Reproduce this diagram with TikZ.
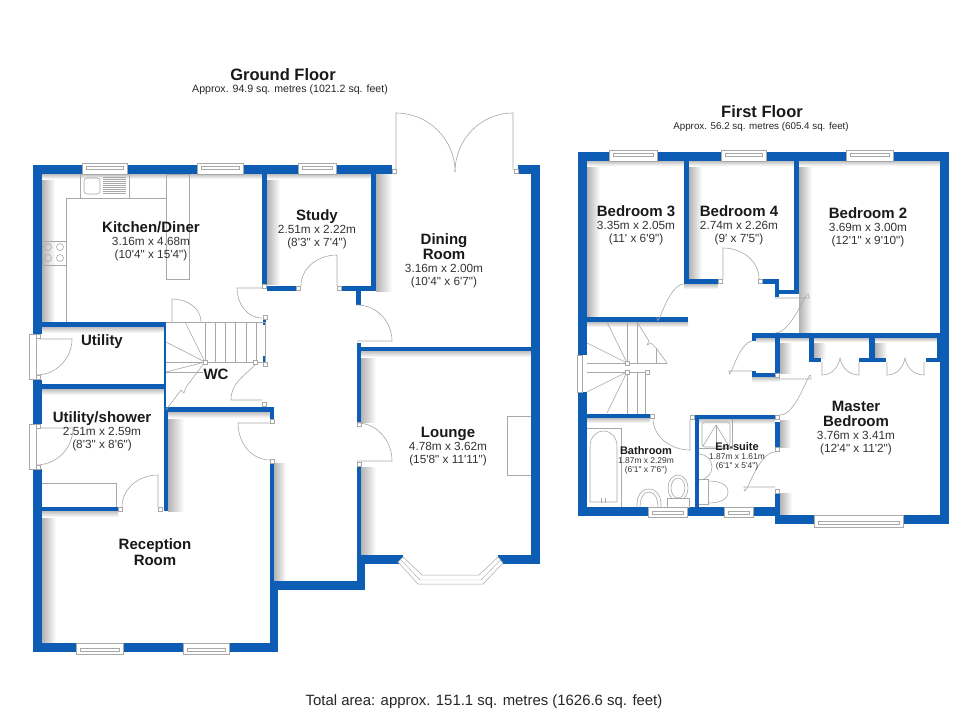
\documentclass[tikz,border=0pt]{standalone}
\usepackage{fontspec}
\setmainfont{Liberation Sans}[Ligatures=TeXOff]
\usepackage{xcolor}
\definecolor{bleumur}{HTML}{0E5DB5}
\definecolor{griscloison}{HTML}{A8A8A8}
\tikzset{
  mur/.style={fill=bleumur},
  trait/.style={draw=griscloison, line width=.6pt},
  cadre/.style={draw=griscloison, fill=white, line width=.5pt},
  ombreD/.style={left color=black!30, right color=white},
  ombreB/.style={top color=black!25, bottom color=white},
  titre/.style={font=\bfseries\fontsize{16.5}{17}\selectfont, text=black!90, inner sep=0pt},
  soustitre/.style={font=\fontsize{10.6}{12}\selectfont, text=black!85, inner sep=0pt},
  salle/.style={align=center, font=\fontsize{11.8}{13}\selectfont, text=black!80, inner sep=0pt},
  petite/.style={align=center, font=\fontsize{8.4}{9}\selectfont, text=black!80, inner sep=0pt},
}
\newcommand{\nom}[1]{{\bfseries\fontsize{15}{15}\selectfont\color{black!90}#1}}
\newcommand{\petitnom}[1]{{\bfseries\fontsize{11}{11}\selectfont\color{black!90}#1}}
\newcommand{\fenetre}[4]{%
  \draw[cadre] (#1,#2) rectangle (#3,#4);
  \draw[trait, line width=.4pt] (#1+4,#2+3) rectangle (#3-4,#2+6);}
\newcommand{\fenetrebas}[4]{%
  \draw[cadre] (#1,#2) rectangle (#3,#4);
  \draw[trait, line width=.4pt] (#1+4,#4-6) rectangle (#3-4,#4-3);}
\begin{document}
\begin{tikzpicture}[x=1pt, y=-1pt]
\useasboundingbox (0,0) rectangle (980,712);
\fill[white] (0,0) rectangle (980,712);

% Ombres du rez-de-chaussee
\shade[ombreD] (42,174) rectangle (55,322);
\shade[ombreD] (42,511) rectangle (56,643);
\shade[ombreD] (267,174) rectangle (280,284);
\shade[ombreD] (376,174) rectangle (392,291);
\shade[ombreD] (168,412) rectangle (184,511);
\shade[ombreD] (274,463) rectangle (286,582);
\shade[ombreD] (361,351) rectangle (376,422);
\shade[ombreD] (361,467) rectangle (376,555);
\shade[ombreB] (42,174) rectangle (262,179);
\shade[ombreB] (267,174) rectangle (371,179);
\shade[ombreB] (361,351) rectangle (531,357);
\shade[ombreB] (168,412) rectangle (270,418);
\shade[ombreB] (42,327) rectangle (164,333);
\shade[ombreB] (42,389) rectangle (164,395);
\shade[ombreB] (42,511) rectangle (118,517);
% Ombres de l'etage
\shade[ombreD] (587,161) rectangle (600,317);
\shade[ombreD] (689,161) rectangle (702,279);
\shade[ombreD] (799,161) rectangle (812,333);
\shade[ombreD] (780,338) rectangle (792,373);
\shade[ombreD] (780,420) rectangle (791,447);
\shade[ombreD] (780,493) rectangle (792,515);
\shade[ombreD] (814,338) rectangle (826,358);
\shade[ombreD] (875,338) rectangle (887,358);
\shade[ombreB] (587,161) rectangle (684,166);
\shade[ombreB] (689,161) rectangle (794,166);
\shade[ombreB] (799,161) rectangle (940,166);
\shade[ombreB] (587,322) rectangle (688,327);
\shade[ombreB] (756,338) rectangle (775,343);
\shade[ombreB] (780,338) rectangle (937,342);
\shade[ombreB] (752,377) rectangle (780,382);
\shade[ombreB] (587,418) rectangle (650,423);
\shade[ombreB] (699,419) rectangle (775,424);
\shade[ombreB] (684,284) rectangle (718,289);

% Murs du rez-de-chaussee
\fill[mur] (33,165) rectangle (392,174);
\fill[mur] (33,165) rectangle (42,334);
\fill[mur] (33,380) rectangle (42,424);
\fill[mur] (33,469) rectangle (42,652);
\fill[mur] (33,643) rectangle (278,652);
\fill[mur] (270,463) rectangle (274,582);
\fill[mur] (270,582) rectangle (278,652);
\fill[mur] (270,581) rectangle (365,590);
\fill[mur] (357,555) rectangle (365,590);
\fill[mur] (357,343) rectangle (361,422);
\fill[mur] (357,467) rectangle (361,555);
\fill[mur] (357,555) rectangle (403,564);
\fill[mur] (498,555) rectangle (540,564);
\fill[mur] (531,165) rectangle (540,564);
\fill[mur] (518,165) rectangle (540,174);
\fill[mur] (361,347) rectangle (531,351);
\fill[mur] (356,290) rectangle (361,305);
\fill[mur] (262,174) rectangle (267,284);
\fill[mur] (267,286) rectangle (296,291);
\fill[mur] (341,286) rectangle (376,291);
\fill[mur] (371,174) rectangle (376,291);
\fill[mur] (42,322) rectangle (165,327);
\fill[mur] (33,384) rectangle (165,389);
\fill[mur] (164,322) rectangle (166,412);
\fill[mur] (164,407) rectangle (168,511);
\fill[mur] (164,407) rectangle (274,412);
\fill[mur] (270,407) rectangle (274,419);
\fill[mur] (42,507) rectangle (118,511);
\fill[mur] (263,319) rectangle (266,325);
\fill[mur] (263,356) rectangle (266,362);

% Fenetres et cadres
\fenetre{82}{163}{127}{174}
\fenetre{197}{163}{243}{174}
\fenetre{298}{163}{336}{174}
\fenetrebas{76}{643}{123}{654}
\fenetrebas{183}{643}{229}{654}
\draw[cadre] (29,334) rectangle (36,379);
\draw[cadre] (29,424) rectangle (36,469);
\foreach \cx/\cy in {36/334, 36/375, 36/424, 36/465, 118/507, 158/507, 296/286, 337/286, 392/169, 514/169, 262/284, 263/315, 263/362, 262/402, 270/419, 270/459, 357/422, 357/462}{
  \draw[cadre] (\cx,\cy) rectangle +(4.5,4.5);
}

% Portes du rez-de-chaussee
\draw[trait] (40,339) -- (72,339) to[out=-90,in=0] (36,375);
\draw[trait] (40,428) -- (73,428) to[out=-90,in=0] (36,465);
\draw[trait] (172,322) -- (172,299) to[out=0,in=90] (201,322);
\draw[trait] (262,288) -- (237,288) to[out=-90,in=180] (262,318);
\draw[trait] (262,400) -- (231,400) to[out=90,in=-135] (255,365);
\draw[trait] (270,423) -- (238,423) to[out=-90,in=180] (270,460);
\draw[trait] (158,507) -- (158,475) to[out=180,in=90] (122,507);
\draw[trait] (337,286) -- (337,255) to[out=180,in=90] (301,286);
\draw[trait] (357,341) -- (392,341) to[out=90,in=0] (357,305);
\draw[trait] (357,461) -- (392,461) to[out=90,in=0] (357,423);
\draw[trait] (396,170) -- (396,113) to[out=0,in=90] (455,172);
\draw[trait] (513,170) -- (513,113) to[out=180,in=90] (455,172);

% Cuisine
\draw[trait] (66,322) -- (66,198) -- (166,198);
\draw[trait] (80,198) -- (80,174);
\draw[trait] (129,198) -- (129,174);
\draw[trait, rounded corners=3pt] (84,178) rectangle (100,194);
\foreach \ly in {177,179,...,193}{
  \draw[trait, line width=.3pt] (103,\ly) -- (126,\ly);
}
\draw[trait] (42,241) rectangle (66,265);
\foreach \hx/\hy in {48/247, 60/247, 48/258, 60/258}{
  \draw[trait] (\hx,\hy) circle (3.5);
}
\draw[trait] (166,198) -- (166,279) -- (189,279) -- (189,174) -- (166,174) -- (166,198);

% Escalier du rez-de-chaussee
\foreach \tx in {205,215,225,235,246,256}{
  \draw[trait] (\tx,322) -- (\tx,362);
}
\draw[trait] (166,362) -- (265,362) -- (265,322) -- (166,322);
\draw[trait] (166,372) -- (203,372);
\draw[trait] (205,362) -- (185,322);
\draw[trait] (205,362) -- (166,342);
\draw[trait] (205,362) -- (166,372);
\draw[trait] (205,362) -- (186,387) -- (184,393) -- (181,390) -- (166,410);
\draw[cadre] (203,360) rectangle +(4,4);
\draw[cadre] (253,360) rectangle +(4,4);

% Lounge : cheminee et bow-window
\draw[trait] (531,416) -- (507,416) -- (507,475) -- (531,475);
\draw[cadre] (398,562) -- (418,584) -- (483,584) -- (503,563) -- (498,557) -- (479,575) -- (422,575) -- (403,557) -- cycle;
\draw[trait, line width=.4pt] (400.5,559.5) -- (420,580) -- (481,580) -- (500.5,560);

% Shower du rez-de-chaussee
\draw[trait] (42,483) -- (116,483) -- (116,507);

% Murs de l'etage
\fill[mur] (578,152) rectangle (949,161);
\fill[mur] (578,152) rectangle (587,355);
\fill[mur] (578,392) rectangle (587,516);
\fill[mur] (578,507) rectangle (780,516);
\fill[mur] (775,493) rectangle (780,524);
\fill[mur] (775,515) rectangle (949,524);
\fill[mur] (940,152) rectangle (949,524);
\fill[mur] (684,161) rectangle (689,284);
\fill[mur] (684,279) rectangle (718,284);
\fill[mur] (794,161) rectangle (799,294);
\fill[mur] (775,290) rectangle (799,294);
\fill[mur] (775,279) rectangle (779,297);
\fill[mur] (763,279) rectangle (779,284);
\fill[mur] (587,317) rectangle (688,322);
\fill[mur] (752,333) rectangle (940,338);
\fill[mur] (752,333) rectangle (756,341);
\fill[mur] (775,338) rectangle (780,377);
\fill[mur] (752,373) rectangle (775,377);
\fill[mur] (752,371) rectangle (756,377);
\fill[mur] (809,338) rectangle (814,362);
\fill[mur] (809,358) rectangle (821,362);
\fill[mur] (869,338) rectangle (875,362);
\fill[mur] (859,358) rectangle (886,362);
\fill[mur] (937,338) rectangle (940,362);
\fill[mur] (926,358) rectangle (940,362);
\fill[mur] (587,414) rectangle (650,418);
\fill[mur] (694,415) rectangle (775,419);
\fill[mur] (695,415) rectangle (699,507);
\fill[mur] (775,422) rectangle (780,447);

% Fenetres et cadres de l'etage
\fenetre{609}{150}{657}{161}
\fenetre{721}{150}{766}{161}
\fenetre{846}{150}{893}{161}
\fenetrebas{648}{507}{687}{517}
\fenetrebas{724}{507}{753}{517}
\fenetrebas{814}{515}{903}{527}
\draw[cadre] (577,355) rectangle (582,392);
\foreach \cx/\cy in {718/279, 758/279, 650/414, 690/415, 775/415, 775/447, 775/489, 775/373}{
  \draw[cadre] (\cx,\cy) rectangle +(4.5,4.5);
}

% Portes de l'etage
\draw[trait] (723,279) -- (723,248) to[out=0,in=90] (759,279);
\draw[trait] (684,284) to[out=180,in=-90] (657,317);
\draw[trait] (775,298) -- (809,298) to[out=90,in=0] (775,333);
\draw[trait] (752,371) -- (729,371) to[out=-90,in=180] (753,341);
\draw[trait] (780,379) -- (811,379) to[out=90,in=0] (780,415);
\draw[trait] (775,487) -- (744,487) to[out=-90,in=180] (775,452);
\draw[trait] (690,420) -- (690,450) to[out=180,in=-90] (653,418);
\foreach \px in {822,887}{
  \draw[trait] (\px,362) -- (\px,375) to[out=0,in=-100] (\px+18,358) to[out=-80,in=180] (\px+37,375) -- (\px+37,362);
}

% Escalier de l'etage
\foreach \tx in {627,637}{
  \draw[trait] (\tx,322) -- (\tx,363);
}
\foreach \tx in {627,637,645}{
  \draw[trait] (\tx,372) -- (\tx,414);
}
\draw[trait] (587,363) -- (667,363);
\draw[trait] (587,372) -- (647,372);
\draw[trait] (627,363) -- (607,322);
\draw[trait] (627,363) -- (587,343);
\draw[trait] (627,372) -- (587,392);
\draw[trait] (627,372) -- (607,413);
\draw[trait] (637,322) -- (649,341) -- (647,345) -- (651,343) -- (656,348) -- (667,363);
\draw[trait] (656,348) -- (656,363);
\draw[cadre] (625,361) rectangle +(4,4);
\draw[cadre] (625,370) rectangle +(4,4);
\draw[cadre] (645,370) rectangle +(4,4);

% Salle de bain
\draw[trait] (587,428) -- (621,428) -- (621,507);
\draw[trait] (590,502) -- (590,446) to[out=90,in=180] (603.5,431) to[out=0,in=90] (617,446) -- (617,502) -- cycle;
\foreach \tx in {601,605}{
  \draw[trait] (\tx,498) -- (\tx,503);
}
\draw[trait] (637,507) -- (637,503) to[out=90,in=180] (649,489) to[out=0,in=90] (661,503) -- (661,507);
\draw[trait] (640,507) to[out=90,in=180] (649,492) to[out=0,in=90] (658,507);
\draw[trait] (678,488) ellipse (10 and 13);
\draw[trait] (678,488) ellipse (7 and 10);
\draw[cadre] (667,498) rectangle (689,507);

% En-suite
\draw[trait] (699,448) -- (732,448) -- (732,419);
\draw[trait, rounded corners=3pt] (702,422) rectangle (730,447);
\draw[trait] (716,425) -- (703,446);
\draw[trait] (716,425) -- (729,446);
\draw[trait] (716,425) -- (716,446);
\draw[trait] (699,454) to[out=0,in=90] (712,467) to[out=-90,in=0] (699,480);
\draw[trait] (699,479) -- (708,479) -- (708,504) -- (699,504);
\draw[trait] (708,481) to[out=0,in=90] (728,492) to[out=-90,in=0] (708,503);

% Textes
\node[titre] (titreRdc) at (283,75) {Ground Floor};
\node[soustitre] (aireRdc) at (290,90) {Approx. 94.9 sq. metres (1021.2 sq. feet)};
\node[titre] (titreEtage) at (762,112) {First Floor};
\node[soustitre, font=\fontsize{9.8}{12}\selectfont] (aireEtage) at (761,127) {Approx. 56.2 sq. metres (605.4 sq. feet)};
\node[inner sep=0pt, font=\fontsize{14.9}{16}\selectfont, text=black!85] (total) at (484,702) {Total area: approx. 151.1 sq. metres (1626.6 sq. feet)};

\node[salle] (kitchen) at (151,241) {\nom{Kitchen/Diner}\\3.16m x 4.68m\\(10'4" x 15'4")};
\node[salle] (study) at (317,229) {\nom{Study}\\2.51m x 2.22m\\(8'3" x 7'4")};
\node[salle] (dining) at (444,261) {\nom{Dining}\\\nom{Room}\\3.16m x 2.00m\\(10'4" x 6'7")};
\node[salle] (utility) at (102,342) {\nom{Utility}};
\node[salle] (wc) at (216,374) {\nom{WC}};
\node[salle] (shower) at (102,431) {\nom{Utility/shower}\\2.51m x 2.59m\\(8'3" x 8'6")};
\node[salle] (reception) at (155,552) {\nom{Reception}\\[1pt]\nom{Room}};
\node[salle] (lounge) at (448,447) {\nom{Lounge}\\4.78m x 3.62m\\(15'8" x 11'11")};
\node[salle] (bed3) at (636,225) {\nom{Bedroom 3}\\3.35m x 2.05m\\(11' x 6'9")};
\node[salle] (bed4) at (739,225) {\nom{Bedroom 4}\\2.74m x 2.26m\\(9' x 7'5")};
\node[salle] (bed2) at (868,227.5) {\nom{Bedroom 2}\\3.69m x 3.00m\\(12'1" x 9'10")};
\node[salle] (master) at (856,428) {\nom{Master}\\[2pt]\nom{Bedroom}\\3.76m x 3.41m\\(12'4" x 11'2")};
\node[petite] (bathroom) at (646,460) {\petitnom{Bathroom}\\1.87m x 2.29m\\(6'1" x 7'6")};
\node[petite] (ensuite) at (737,456) {\petitnom{En-suite}\\1.87m x 1.61m\\(6'1" x 5'4")};
\end{tikzpicture}
\end{document}
